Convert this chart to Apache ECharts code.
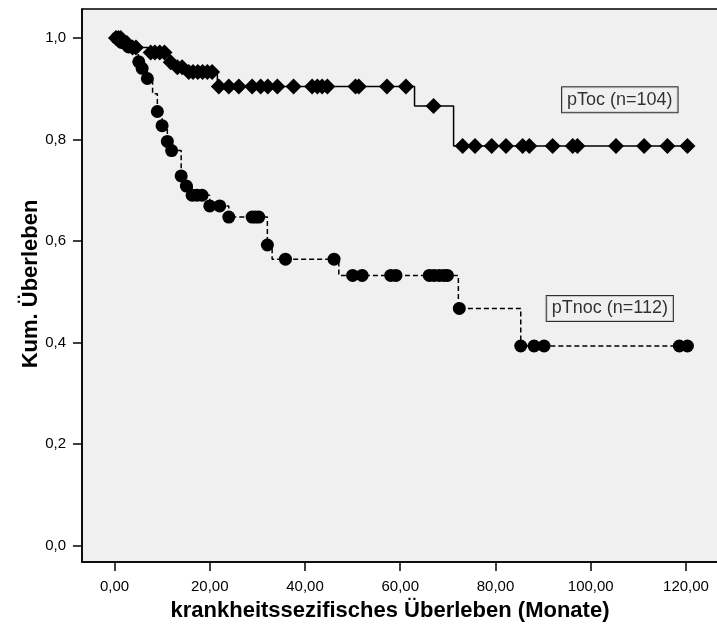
<!DOCTYPE html>
<html>
<head>
<meta charset="utf-8">
<script src="https://cdn.jsdelivr.net/npm/echarts@6/dist/echarts.min.js"></script>
<style>
html,body{margin:0;padding:0;background:#fff;overflow:hidden;width:717px;height:635px;}
#chart{width:800px;height:635px;}
</style>
</head>
<body>
<div id="chart"></div>
<script>
// ---- data ----
// pToc: event steps (time in months, survival after step)
const tocEventT = [0, 1.0, 3.5, 7.0, 11.5, 12.5, 15.3, 21.6, 63.0, 71.2];
const tocEventS = [1.0, 0.990, 0.981, 0.971, 0.952, 0.942, 0.933, 0.904, 0.866, 0.787];
// pToc: censored observations
const tocCensT = [0.3, 0.8, 1.3, 2.0, 2.6, 3.8, 4.5, 7.6, 8.5, 9.5, 10.5, 11.8, 13.2, 14.2,
  15.6, 16.5, 17.5, 18.5, 19.5, 20.5,
  21.9, 24.0, 26.1, 28.9, 30.7, 32.2, 34.2, 37.6, 41.5, 42.6, 43.6, 44.7, 50.6, 51.3, 57.2, 61.2,
  67.0,
  73.1, 75.7, 79.2, 82.2, 85.7, 87.1, 92.0, 96.2, 97.2, 105.3, 111.2, 116.1, 120.3];
const tocCensS = [1.0, 1.0, 1.0, 0.990, 0.990, 0.981, 0.981, 0.971, 0.971, 0.971, 0.971, 0.952, 0.942, 0.942,
  0.933, 0.933, 0.933, 0.933, 0.933, 0.933,
  0.904, 0.904, 0.904, 0.904, 0.904, 0.904, 0.904, 0.904, 0.904, 0.904, 0.904, 0.904, 0.904, 0.904, 0.904, 0.904,
  0.866,
  0.787, 0.787, 0.787, 0.787, 0.787, 0.787, 0.787, 0.787, 0.787, 0.787, 0.787, 0.787, 0.787];

// pTnoc: event steps
const tnocEventT = [0, 1.0, 2.5, 3.5, 5.0, 5.8, 6.9, 8.0, 9.0, 10.0, 11.1, 12.0, 14.0, 15.1, 16.3, 20.0, 24.0, 32.1, 33.1, 47.1, 72.2, 85.3];
const tnocEventS = [1.0, 0.991, 0.982, 0.973, 0.953, 0.940, 0.920, 0.890, 0.855, 0.827, 0.796, 0.778, 0.728, 0.708, 0.690, 0.669, 0.647, 0.592, 0.564, 0.532, 0.467, 0.393];
// pTnoc: censored observations
const tnocCensT = [0.5, 1.5, 2.0, 3.0, 5.1, 5.8, 6.9, 9.0, 10.0, 11.1, 12.0, 14.0, 15.1, 16.3, 17.3, 18.4,
  20.0, 22.1, 24.0, 28.9, 29.6, 30.3, 32.1, 35.9, 46.1,
  50.0, 52.0, 58.0, 59.1, 66.1, 67.1, 68.2, 69.2, 69.9, 72.4, 85.3, 88.1, 90.2, 118.6, 120.3];
const tnocCensS = [1.0, 0.991, 0.991, 0.982, 0.953, 0.940, 0.920, 0.855, 0.827, 0.796, 0.778, 0.728, 0.708, 0.690, 0.690, 0.690,
  0.669, 0.669, 0.647, 0.647, 0.647, 0.647, 0.592, 0.564, 0.564,
  0.532, 0.532, 0.532, 0.532, 0.532, 0.532, 0.532, 0.532, 0.532, 0.467, 0.393, 0.393, 0.393, 0.393, 0.393];

// axis ticks
const xTicks = [0, 20, 40, 60, 80, 100, 120];
const yTicks = [0, 0.2, 0.4, 0.6, 0.8, 1.0];

// group labels and where they sit (data coordinates)
const groupNames = ['pToc (n=104)', 'pTnoc (n=112)'];
const groupLabelT = [106.1, 104.0];
const groupLabelS = [0.878, 0.467];

const xTitle = 'krankheitssezifisches Überleben (Monate)';
const yTitle = 'Kum. Überleben';

// ---- chart ----
const zip = (a, b) => a.map((v, i) => [v, b[i]]);
// step line runs on to the last observation of the group
const curve = (et, es, ct) => {
  const pts = zip(et, es);
  const tEnd = Math.max(...ct);
  if (tEnd > et[et.length - 1]) pts.push([tEnd, es[es.length - 1]]);
  return pts;
};
const chart = echarts.init(document.getElementById('chart'), null, {renderer: 'canvas'});
const font = 'Liberation Sans, Arial, sans-serif';

chart.setOption({
  animation: false,
  backgroundColor: '#ffffff',
  grid: {
    left: 82, top: 9, right: 61.6, bottom: 73,
    outerBoundsMode: 'none',
    show: true, backgroundColor: '#f0f0f0', borderColor: '#000', borderWidth: 1.5
  },
  xAxis: {
    type: 'value', min: -6.82, max: 131,
    splitLine: {show: false},
    axisLine: {show: true, onZero: false, lineStyle: {color: '#000', width: 1.5}},
    axisTick: {show: true, customValues: xTicks, length: 9, lineStyle: {color: '#000', width: 1.5}},
    axisLabel: {customValues: xTicks, margin: 17, color: '#000', fontFamily: font, fontSize: 15,
      formatter: v => v.toFixed(2).replace('.', ',')}
  },
  yAxis: {
    type: 'value', min: -0.0325, max: 1.0569,
    splitLine: {show: false},
    axisLine: {show: true, onZero: false, lineStyle: {color: '#000', width: 1.5}},
    axisTick: {show: true, customValues: yTicks, length: 9, lineStyle: {color: '#000', width: 1.5}},
    axisLabel: {customValues: yTicks, margin: 16, color: '#000', fontFamily: font, fontSize: 15,
      formatter: v => v.toFixed(1).replace('.', ',')}
  },
  graphic: [
    {type: 'text', x: 390, y: 611, style: {text: xTitle, align: 'center', verticalAlign: 'middle',
      font: 'bold 22px ' + font, fill: '#000'}},
    {type: 'text', x: 31, y: 284, rotation: Math.PI / 2, style: {text: yTitle, align: 'center', verticalAlign: 'middle',
      font: 'bold 22px ' + font, fill: '#000'}}
  ],
  series: [
    {type: 'line', step: 'end', data: curve(tocEventT, tocEventS, tocCensT), showSymbol: false, symbol: 'none',
      lineStyle: {color: '#000', width: 1.5}, z: 2},
    {type: 'scatter', data: zip(tocCensT, tocCensS), symbol: 'diamond', symbolSize: [16, 16],
      itemStyle: {color: '#000', opacity: 1}, z: 3},
    {type: 'line', step: 'end', data: curve(tnocEventT, tnocEventS, tnocCensT), showSymbol: false, symbol: 'none',
      lineStyle: {color: '#000', width: 1.5, type: [5, 3]}, z: 2},
    {type: 'scatter', data: zip(tnocCensT, tnocCensS), symbol: 'circle', symbolSize: 13,
      itemStyle: {color: '#000', opacity: 1}, z: 3},
    {type: 'scatter', symbolSize: 0, z: 5,
      data: groupNames.map((n, i) => ({name: n, value: [groupLabelT[i], groupLabelS[i]]})),
      label: {show: true, position: 'inside', formatter: p => p.name, color: '#000',
        fontFamily: font, fontSize: 18, backgroundColor: '#f0f0f0', borderColor: '#000', borderWidth: 1,
        padding: [4, 5, 3, 5]}}
  ]
});
</script>
</body>
</html>
